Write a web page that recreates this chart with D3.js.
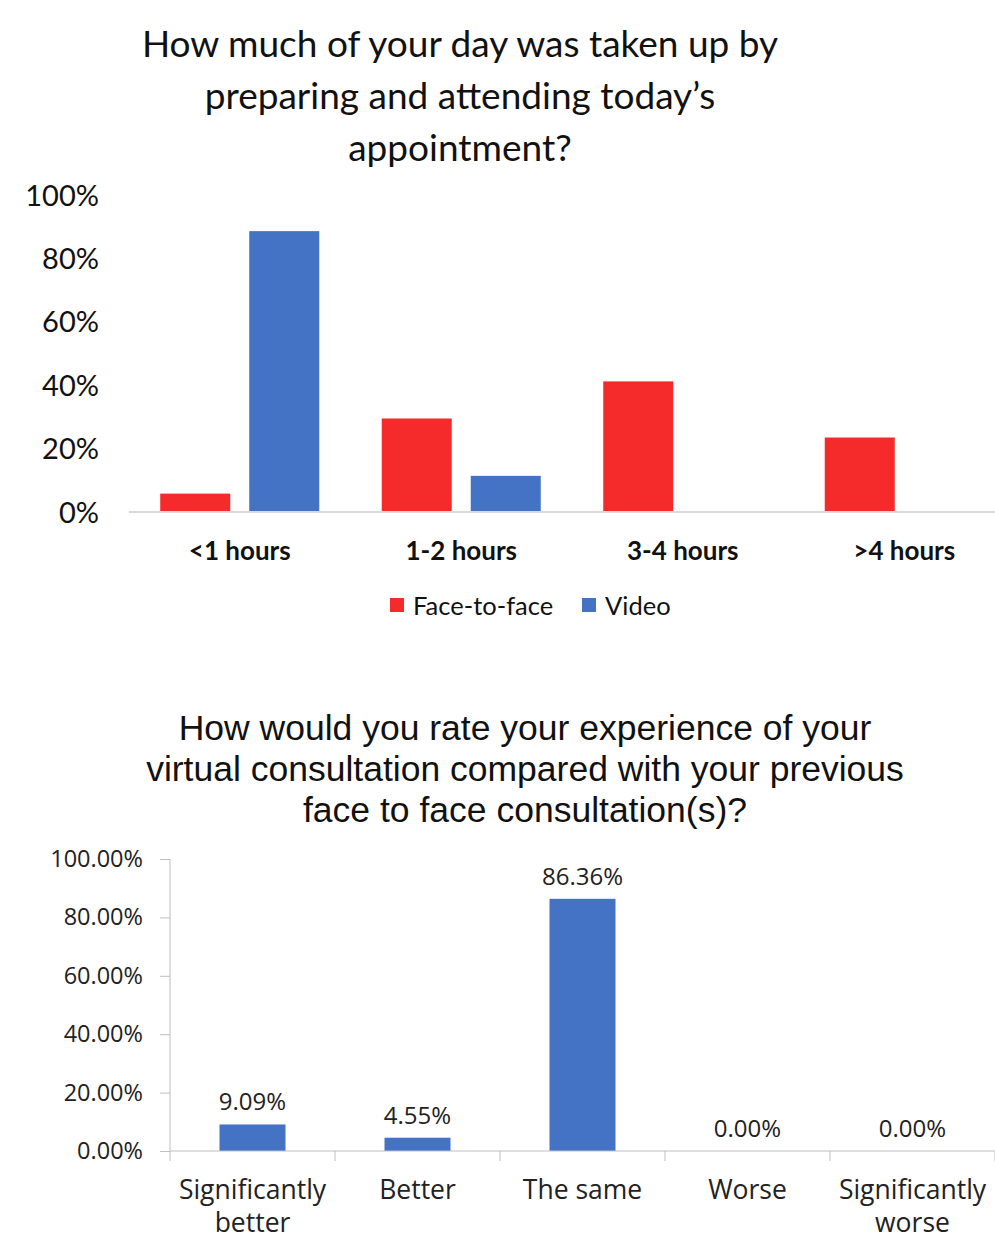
<!DOCTYPE html>
<html><head><meta charset="utf-8">
<script src="https://cdn.jsdelivr.net/npm/d3@7"></script>
<style>body{margin:0;background:#fff}svg{display:block}</style>
</head><body>
<svg id="c" width="995" height="1241"></svg>
<script>
// ---- Chart 1 data ----
const cats1 = ["<1 hours", "1-2 hours", "3-4 hours", ">4 hours"];
const series1 = ["Face-to-face", "Video"];
const faceToFace = [5.8, 29.5, 41.2, 23.5];
const video = [88.6, 11.4, 0, 0];
const ticks1 = [0, 20, 40, 60, 80, 100];
const title1 = ["How much of your day was taken up by", "preparing and attending today\u2019s", "appointment?"];

// ---- Chart 2 data ----
const cats2 = [["Significantly", "better"], ["Better"], ["The same"], ["Worse"], ["Significantly", "worse"]];
const values2 = [9.09, 4.55, 86.36, 0, 0];
const ticks2 = [0, 20, 40, 60, 80, 100];
const title2 = ["How would you rate your experience of your", "virtual consultation compared with your previous", "face to face consultation(s)?"];

const svg = d3.select("#c");
const RED = "#F42A2B", BLUE = "#4472C4";

// ===== Chart 1 =====
const g1 = svg.append("g");
const f1 = "Lato, 'Open Sans', sans-serif";
g1.selectAll("text.t1").data(title1).join("text")
  .attr("x", 460).attr("y", (d, i) => 57 + i * 52)
  .attr("text-anchor", "middle").attr("font-family", f1).attr("font-size", 37).attr("fill", "#111")
  .text(d => d);

const x1 = d3.scaleBand().domain(cats1).range([129, 1015]);
const y1 = d3.scaleLinear().domain([0, 100]).range([512, 195]);
const xs1 = d3.scaleBand().domain(series1).range([0, x1.bandwidth()]).paddingInner(0.2135).paddingOuter(0.351);

const yAx1 = d3.axisLeft(y1).tickValues(ticks1).tickSize(0).tickPadding(0).tickFormat(d => d + "%");
const ya1 = g1.append("g").attr("transform", "translate(99,0)").call(yAx1);
ya1.select(".domain").remove();
ya1.selectAll("text").attr("font-family", f1).attr("font-size", 29).attr("fill", "#111").attr("dy", "0.35em");

const groups1 = g1.selectAll("g.grp").data(cats1).join("g").attr("transform", d => `translate(${x1(d)},0)`);
groups1.selectAll("rect").data((d, i) => [
  { s: "Face-to-face", v: faceToFace[i] }, { s: "Video", v: video[i] }
]).join("rect")
  .attr("x", d => xs1(d.s)).attr("width", xs1.bandwidth())
  .attr("y", d => y1(d.v)).attr("height", d => y1(0) - y1(d.v))
  .attr("fill", d => d.s === "Face-to-face" ? RED : BLUE);

const xAx1 = d3.axisBottom(x1).tickSize(0).tickPadding(0);
const xa1 = g1.append("g").attr("transform", `translate(0,${y1(0)})`).call(xAx1);
xa1.select(".domain").attr("stroke", "#D9D9D9").attr("stroke-width", 2).attr("d", `M129,0H995`);
xa1.selectAll("text").attr("font-family", f1).attr("font-size", 26).attr("font-weight", "bold")
  .attr("fill", "#111").attr("dy", 0).attr("y", 48);

// legend
const legX = [390, 582];
const leg = g1.selectAll("g.leg").data(series1).join("g").attr("transform", (d, i) => `translate(${legX[i]},598)`);
leg.append("rect").attr("width", 14).attr("height", 14).attr("fill", (d, i) => i === 0 ? RED : BLUE);
leg.append("text").attr("x", 23).attr("y", 17).attr("font-family", f1).attr("font-size", 25.5).attr("fill", "#111").text(d => d);

// ===== Chart 2 =====
const g2 = svg.append("g");
const f2 = "'Open Sans', Lato, sans-serif";
g2.selectAll("text.t2").data(title2).join("text")
  .attr("x", 525).attr("y", (d, i) => 740 + i * 41)
  .attr("text-anchor", "middle").attr("font-family", "'Liberation Sans', Arial, sans-serif").attr("font-size", 35.5).attr("fill", "#111")
  .text(d => d);

const labels2 = cats2.map(d => d.join(" "));
const x2 = d3.scaleBand().domain(labels2).range([170, 995]).paddingInner(0.6).paddingOuter(0.3);
const xb2 = d3.scaleBand().domain(labels2).range([170, 995]);
const y2 = d3.scaleLinear().domain([0, 100]).range([1151, 859]);

const yAx2 = d3.axisLeft(y2).tickValues(ticks2).tickSize(10).tickPadding(17).tickFormat(d => d3.format(".2f")(d) + "%");
const ya2 = g2.append("g").attr("transform", "translate(170,0)").call(yAx2);
ya2.select(".domain").attr("stroke", "#BFBFBF").attr("d", "M0,859V1151");
ya2.selectAll(".tick line").attr("stroke", "#BFBFBF");
ya2.selectAll("text").attr("font-family", f2).attr("font-size", 23.5).attr("fill", "#222");

g2.selectAll("rect.b2").data(values2).join("rect")
  .attr("x", (d, i) => x2(labels2[i])).attr("width", x2.bandwidth())
  .attr("y", d => y2(d)).attr("height", d => y2(0) - y2(d)).attr("fill", BLUE);

g2.selectAll("text.v2").data(values2).join("text")
  .attr("x", (d, i) => xb2(labels2[i]) + xb2.bandwidth() / 2)
  .attr("y", d => y2(d) - 14).attr("text-anchor", "middle")
  .attr("font-family", f2).attr("font-size", 24).attr("fill", "#222")
  .text(d => d3.format(".2f")(d) + "%");

// x axis line and boundary ticks
const bounds = labels2.map(l => xb2(l)).concat([995]);
g2.append("line").attr("x1", 170).attr("x2", 995).attr("y1", 1151).attr("y2", 1151).attr("stroke", "#BFBFBF");
g2.selectAll("line.bt").data(bounds).join("line")
  .attr("x1", d => d).attr("x2", d => d).attr("y1", 1151).attr("y2", 1161).attr("stroke", "#BFBFBF");

const cl = g2.selectAll("text.c2").data(cats2).join("text")
  .attr("x", (d, i) => xb2(labels2[i]) + xb2.bandwidth() / 2)
  .attr("y", 1199).attr("text-anchor", "middle")
  .attr("font-family", f2).attr("font-size", 26.5).attr("fill", "#222");
cl.selectAll("tspan").data(d => d).join("tspan")
  .attr("x", function () { return this.parentNode.getAttribute("x"); })
  .attr("dy", (d, i) => i === 0 ? 0 : 33).text(d => d);
</script>
</body></html>
